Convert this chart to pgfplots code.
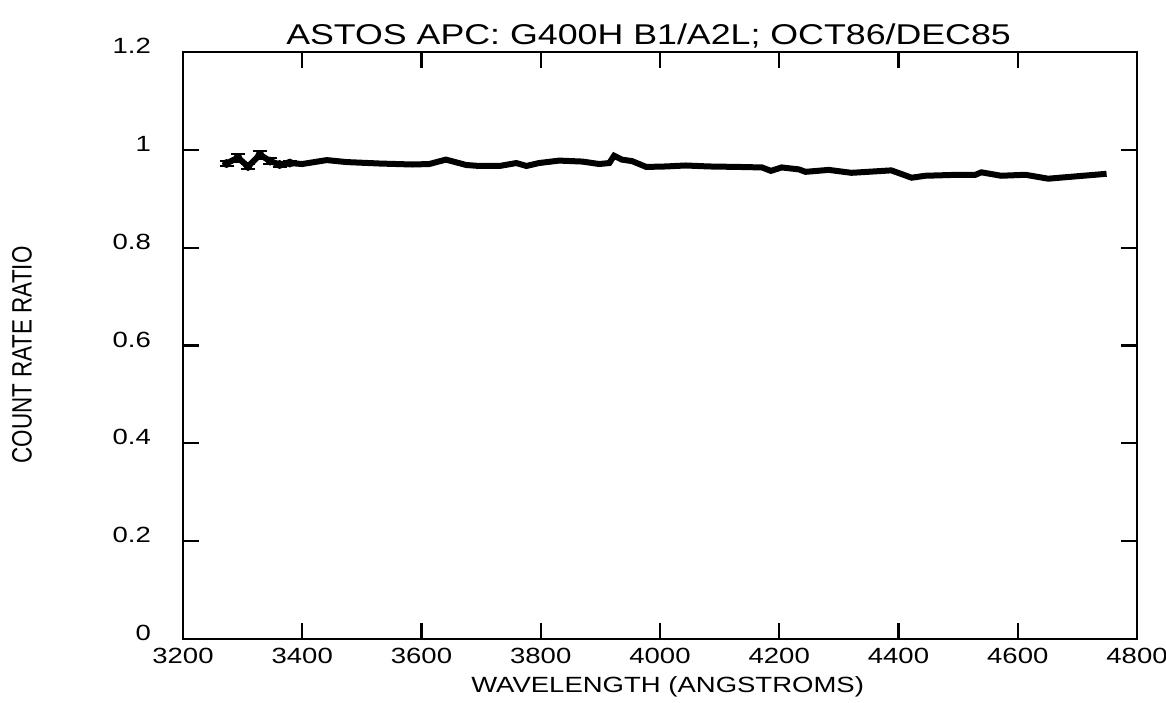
\documentclass[border=0pt]{standalone}
\usepackage{fontspec}
\setmainfont{Liberation Sans}[FakeStretch=1.25]
\newfontfamily\narrowfont{Liberation Sans}[FakeStretch=0.8]
\usepackage{pgfplots}
\pgfplotsset{compat=1.18}

\pgfplotstableread{
x     y
3273  0.972
3292  0.984
3309  0.966
3329  0.990
3346  0.977
3362  0.970
3379  0.973
3400  0.971
3441  0.979
3474  0.975
3530  0.972
3585  0.970
3613  0.971
3641  0.980
3675  0.969
3697  0.967
3731  0.967
3759  0.973
3776  0.967
3797  0.973
3831  0.978
3870  0.976
3898  0.971
3915  0.973
3923  0.988
3936  0.980
3953  0.977
3977  0.965
4010  0.966
4043  0.968
4082  0.966
4132  0.965
4171  0.964
4186  0.957
4204  0.964
4233  0.960
4244  0.955
4283  0.959
4321  0.953
4388  0.958
4422  0.943
4445  0.947
4500  0.949
4529  0.949
4539  0.954
4572  0.947
4613  0.949
4651  0.941
4690  0.945
4749  0.951
}\ratio

\pgfplotstableread{
x     y      e
3273  0.972  0.005
3292  0.984  0.008
3309  0.966  0.006
3329  0.990  0.008
3346  0.977  0.006
3362  0.970  0.005
3379  0.973  0.004
}\errs

\begin{document}
\begin{tikzpicture}
\useasboundingbox (-91.5pt,-31.5pt) rectangle (491.5pt,319.5pt);
\begin{axis}[
  scale only axis,
  width=477pt, height=293.5pt,
  xmin=3200, xmax=4800,
  ymin=0, ymax=1.2,
  xtick={3200,3400,3600,3800,4000,4200,4400,4600,4800},
  ytick={0,0.2,0.4,0.6,0.8,1,1.2},
  tick align=inside,
  major tick length=8pt,
  axis line style={line width=1.2pt},
  every tick/.style={black, line width=1.1pt},
  /pgf/number format/assume math mode=true,
  /pgf/number format/1000 sep={},
  ticklabel style={font=\fontsize{11}{13}\selectfont},
  yticklabel style={xshift=-12.5pt, yshift=3pt},
  xticklabel style={yshift=-1pt},
  title={ASTOS APC: G400H B1/A2L; OCT86/DEC85},
  title style={at={(axis description cs:0.488,1.0375)}, anchor=center,
    yshift=-9pt, font=\fontsize{14.3}{16}\selectfont},
  xlabel={WAVELENGTH (ANGSTROMS)},
  xlabel style={at={(axis description cs:0.508,-0.0818)}, anchor=center,
    font=\fontsize{11}{13}\selectfont},
  ylabel={COUNT RATE RATIO},
  ylabel style={at={(axis description cs:-0.1688,0.4838)}, anchor=center,
    font=\narrowfont\fontsize{14}{16}\selectfont},
]
\addplot[black, line width=3pt, line join=miter] table[x=x, y=y] {\ratio};
\addplot[only marks, mark=none, forget plot,
  error bars/.cd, y dir=both, y explicit,
  error bar style={black, solid, line width=1.1pt},
  error mark options={black, rotate=90, mark size=3.5pt, line width=1.1pt}]
  table[x=x, y=y, y error=e] {\errs};
\end{axis}
\end{tikzpicture}
\end{document}
